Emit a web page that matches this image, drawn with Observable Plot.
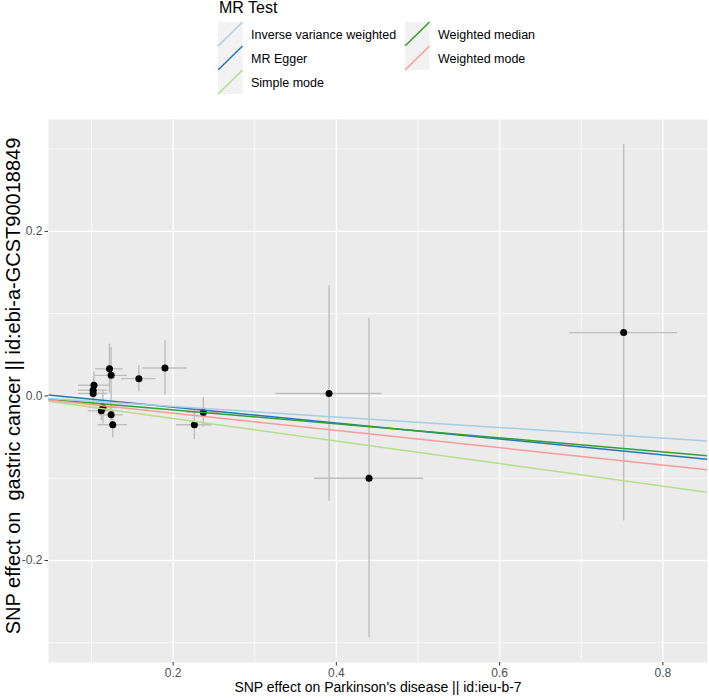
<!DOCTYPE html>
<html>
<head>
<meta charset="utf-8">
<script src="https://cdn.jsdelivr.net/npm/d3@7"></script>
<script src="https://cdn.jsdelivr.net/npm/@observablehq/plot@0.6"></script>
<style>
  body { margin: 0; background: #ffffff; font-family: "Liberation Sans", Arial, sans-serif; }
  #chart { width: 709px; }
  #chart svg { display: block; }
  g[aria-label="x-axis tick"], g[aria-label="y-axis tick"] { stroke: #333333; }
  g[aria-label="x-axis tick label"], g[aria-label="y-axis tick label"] { fill: #4D4D4D; }
</style>
</head>
<body>
<div id="chart"></div>
<script>
// SNP-level effects: exposure (Parkinson's disease) and outcome (gastric cancer)
const snpBetaExposure = [0.122, 0.124, 0.103, 0.102, 0.102, 0.158, 0.190, 0.112, 0.114, 0.124, 0.126, 0.226, 0.237, 0.391, 0.440, 0.752];
const snpSeExposure   = [0.017, 0.020, 0.019, 0.018, 0.018, 0.021, 0.027, 0.016, 0.017, 0.015, 0.018, 0.022, 0.020, 0.065, 0.067, 0.066];
const snpBetaOutcome  = [0.033, 0.025, 0.013, 0.007, 0.003, 0.021, 0.034, -0.018, -0.014, -0.023, -0.035, -0.035, -0.020, 0.003, -0.100, 0.077];
const snpSeOutcome    = [0.030, 0.034, 0.016, 0.014, 0.013, 0.016, 0.033, 0.012, 0.020, 0.016, 0.016, 0.018, 0.018, 0.131, 0.194, 0.229];

// MR estimates per method (legend order)
const methods      = ["Inverse variance weighted", "MR Egger", "Simple mode", "Weighted median", "Weighted mode"];
const methodColors = ["#A6CEE3", "#1F78B4", "#B2DF8A", "#33A02C", "#FB9A99"];
const intercepts   = [0, 0.0058, 0, 0, 0];
const slopes       = [-0.064, -0.097, -0.137, -0.085, -0.105];
// order in which the fitted lines are layered
const lineDrawOrder = ["MR Egger", "Weighted median", "Inverse variance weighted", "Simple mode", "Weighted mode"];

const xTicks = [0.2, 0.4, 0.6, 0.8];
const xMinor = [0.1, 0.3, 0.5, 0.7];
const yTicks = [-0.2, 0.0, 0.2];
const yMinor = [-0.3, -0.1, 0.1, 0.3];

const legendTitle = "MR Test";
const xTitle = "SNP effect on Parkinson's disease || id:ieu-b-7";
const yTitle = "SNP effect on  gastric cancer || id:ebi-a-GCST90018849";

const snps = snpBetaExposure.map((bx, i) => ({
  bx, sx: snpSeExposure[i], by: snpBetaOutcome[i], sy: snpSeOutcome[i]
}));

// ggplot-style 5% expansion of the data range
function expand(lo, hi) { const p = (hi - lo) * 0.05; return [lo - p, hi + p]; }
const xDomain = expand(d3.min(snps, d => d.bx - d.sx), d3.max(snps, d => d.bx + d.sx));
const yDomain = expand(d3.min(snps, d => d.by - d.sy), d3.max(snps, d => d.by + d.sy));

const fits = lineDrawOrder.map(m => {
  const i = methods.indexOf(m);
  return {
    method: m, color: methodColors[i],
    x1: xDomain[0], x2: xDomain[1],
    y1: intercepts[i] + slopes[i] * xDomain[0],
    y2: intercepts[i] + slopes[i] * xDomain[1]
  };
});

const font = "Liberation Sans, Arial, sans-serif";
const chart = d3.select("#chart");

// Legend above the plot
const W = 709, legendH = 112;
const leg = chart.append("svg").attr("width", W).attr("height", legendH)
  .style("font-family", font);
leg.append("text").attr("x", 219).attr("y", 13).attr("font-size", 16).attr("fill", "#000")
  .text(legendTitle);
const keyW = 24.5, keyH = 24, colX = [218, 405], rowY0 = 22;
methods.forEach((m, i) => {
  const col = Math.floor(i / 3), row = i % 3;
  const kx = colX[col], ky = rowY0 + row * keyH;
  leg.append("rect").attr("x", kx).attr("y", ky).attr("width", keyW).attr("height", keyH).attr("fill", "#F2F2F2");
  leg.append("line").attr("x1", kx).attr("y1", ky + keyH).attr("x2", kx + keyW).attr("y2", ky)
    .attr("stroke", methodColors[i]).attr("stroke-width", 1.5);
  leg.append("text").attr("x", kx + keyW + 8.5).attr("y", ky + keyH / 2 + 4.5)
    .attr("font-size", 12.5).attr("fill", "#000").text(m);
});

// Scatter plot with error bars and fitted MR lines
const plot = Plot.plot({
  width: W,
  height: 587,
  marginLeft: 48,
  marginRight: 2,
  marginTop: 7,
  marginBottom: 37,
  style: { fontFamily: font, background: "transparent" },
  x: { domain: xDomain },
  y: { domain: yDomain },
  marks: [
    Plot.frame({ fill: "#EBEBEB", stroke: null }),
    Plot.ruleX(xMinor, { stroke: "#FFFFFF", strokeWidth: 0.7 }),
    Plot.ruleY(yMinor, { stroke: "#FFFFFF", strokeWidth: 0.7 }),
    Plot.ruleX(xTicks, { stroke: "#FFFFFF", strokeWidth: 1.4 }),
    Plot.ruleY(yTicks, { stroke: "#FFFFFF", strokeWidth: 1.4 }),
    Plot.ruleX(snps, { x: "bx", y1: d => d.by - d.sy, y2: d => d.by + d.sy, stroke: "#BEBEBE", strokeWidth: 1.4 }),
    Plot.ruleY(snps, { y: "by", x1: d => d.bx - d.sx, x2: d => d.bx + d.sx, stroke: "#BEBEBE", strokeWidth: 1.4 }),
    Plot.dot(snps, { x: "bx", y: "by", r: 3.5, fill: "#000000", stroke: null }),
    Plot.link(fits, { x1: "x1", y1: "y1", x2: "x2", y2: "y2", stroke: "color", strokeWidth: 1.5, clip: true }),
    Plot.axisX({ ticks: xTicks, tickFormat: d => d.toFixed(1), tickSize: 3.5, tickPadding: 2.5, fontSize: 12, label: null }),
    Plot.axisY({ ticks: yTicks, tickFormat: d => d.toFixed(1), tickSize: 3.5, tickPadding: 2.5, fontSize: 12, label: null }),
    Plot.text([xTitle], { frameAnchor: "bottom", dy: 29, fontSize: 14, fill: "#000", textAnchor: "middle" }),
    Plot.text([yTitle], { frameAnchor: "left", dx: -35, dy: -5, rotate: -90, fontSize: 20, fill: "#000", textAnchor: "middle" })
  ]
});
chart.node().appendChild(plot);
</script>
</body>
</html>
